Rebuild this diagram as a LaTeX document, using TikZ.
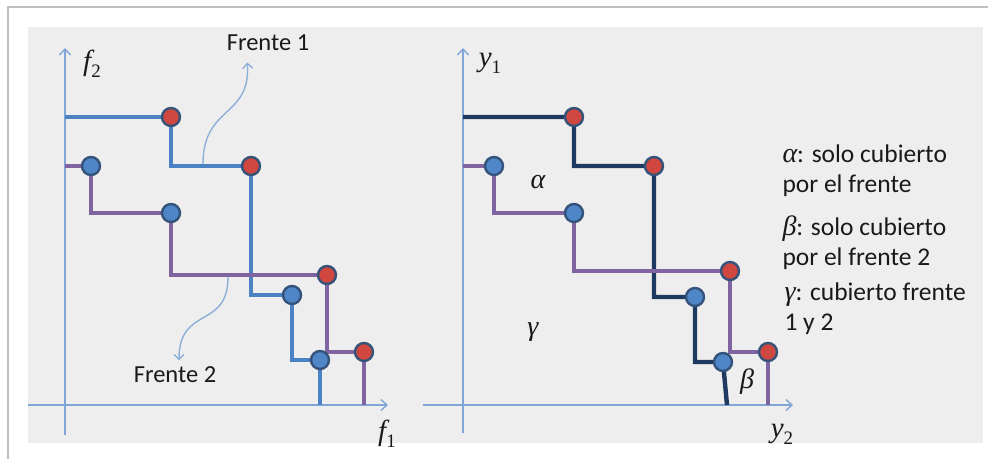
\documentclass[tikz,border=0pt]{standalone}
\usepackage{fontspec}
\setmainfont{Carlito}
\newfontfamily\mfont{Liberation Serif}
\usepackage{tikz}
\usetikzlibrary{arrows.meta, calc}
\definecolor{fxaxis}{HTML}{7FA6D6}
\definecolor{fxblue}{HTML}{4A82C4}
\definecolor{fxpurple}{HTML}{8064A2}
\definecolor{fxnavy}{HTML}{1F3A60}
\definecolor{fxred}{HTML}{D0473F}
\definecolor{fxdot}{HTML}{4F86C8}
\definecolor{fxrim}{HTML}{34527A}
\definecolor{fxcurve}{HTML}{8DB0DA}
\definecolor{fxbg}{HTML}{EEEEEE}
\newcommand\fxvar[2]{{\mfont\itshape #1}\raisebox{-.25em}{\mfont\fontsize{19}{21}\selectfont #2}}
\newcommand\fxgr[1]{{\mfont\itshape\fontsize{28}{30}\selectfont #1}}

\begin{document}
\begin{tikzpicture}[x=1pt, y=-1pt,
          axis/.style={draw=fxaxis, line width=1.4pt, -{Straight Barb[length=6pt, width=11pt]}},
          front/.style={line width=4.4pt, line join=miter},
          pto/.style={circle, draw=fxrim, line width=2.4pt, minimum size=18pt, inner sep=0pt},
          rpt/.style={pto, fill=fxred},
          bpt/.style={pto, fill=fxdot},
          lbl/.style={font=\fontsize{24.5}{28}\selectfont, text=black!90},
          var/.style={font=\fontsize{29}{31}\selectfont, text=black!90},
          note/.style={font=\fontsize{25.5}{30}\selectfont, text=black!90, align=left, anchor=west},
          callout/.style={draw=fxcurve, line width=1.4pt, -{Straight Barb[length=5pt, width=10pt]}}]
          \useasboundingbox (0,0) rectangle (995,459);
          \fill[white] (0,0) rectangle (995,459);
          \fill[fxbg] (28,27) rectangle (983,443);
          \draw[black!25, line width=1.5pt] (8,459) |- (988,7);

          % f1 / f2
          \coordinate (lo) at (65,405);
          \draw[axis] (65,435) -- (65,48);
          \draw[axis] (28,405) -- (388,405);
          \node[var] (lf2) at (92,64) {\fxvar{f}{2}};
          \node[var] (lf1) at (387,434) {\fxvar{f}{1}};

          \coordinate (a0) at (65,117);
          \coordinate (a1) at (171,117);
          \coordinate (a2) at (251,166);
          \coordinate (a3) at (292,295);
          \coordinate (a4) at (320,360);
          \coordinate (b0) at (65,166);
          \coordinate (b1) at (91,166);
          \coordinate (b2) at (171,213);
          \coordinate (b3) at (327,275);
          \coordinate (b4) at (364,352);
          \draw[front, fxblue] (a0) -- (a1) |- (a2) |- (a3) |- (a4) -- (a4 |- lo);
          \draw[front, fxpurple] (b0) -- (b1) |- (b2) |- (b3) |- (b4) -- (b4 |- lo);
          \node[rpt] at (a1) {};
          \node[rpt] at (a2) {};
          \node[bpt] at (a3) {};
          \node[bpt] at (a4) {};
          \node[bpt] at (b1) {};
          \node[bpt] at (b2) {};
          \node[rpt] at (b3) {};
          \node[rpt] at (b4) {};

          \node[lbl] (fr1) at (268,43) {Frente 1};
          \node[lbl] (fr2) at (175,375) {Frente 2};
          \coordinate (k1) at (203,164);
          \coordinate (k2) at (228,277);
          \draw[callout] (k1) .. controls (203,105) and (251,118) .. ($(fr1.south west)+(24,8)$);
          \draw[callout] (k2) .. controls (228,330) and (179,305) .. ($(fr2.north)+(4,-3)$);

          % y1 / y2
          \coordinate (ro) at (463,405);
          \draw[axis] (463,433) -- (463,48);
          \draw[axis] (423,405) -- (793,405);
          \node[var] (ly1) at (490,63) {\fxvar{y}{1}};
          \node[var] (ly2) at (782,434) {\fxvar{y}{2}};

          \coordinate (c0) at (463,117);
          \coordinate (c1) at (574,117);
          \coordinate (c2) at (654,166);
          \coordinate (c3) at (695,297);
          \coordinate (c4) at (723,362);
          \coordinate (d0) at (463,166);
          \coordinate (d1) at (494,166);
          \coordinate (d2) at (574,213);
          \coordinate (d3) at (730,271);
          \coordinate (d4) at (768,352);
          \draw[front, fxnavy] (c0) -- (c1) |- (c2) |- (c3) |- (c4) -- ($(c4 |- ro)+(4,0)$);
          \draw[front, fxpurple] (d0) -- (d1) |- (d2) |- (d3) |- (d4) -- (d4 |- ro);
          \node[rpt] at (c1) {};
          \node[rpt] at (c2) {};
          \node[bpt] at (c3) {};
          \node[bpt] at (c4) {};
          \node[bpt] at (d1) {};
          \node[bpt] at (d2) {};
          \node[rpt] at (d3) {};
          \node[rpt] at (d4) {};

          \node[var] (ra) at (538,182) {\fxgr{α}};
          \node[var] (rg) at (533,332) {\fxgr{γ}};
          \node[var] (rb) at (747,382) {\fxgr{β}};

          \node[note] (na) at (779,171) {\fxgr{α}: solo cubierto\\por el frente};
          \node[note] (nb) at (779,243) {\fxgr{β}: solo cubierto\\por el frente 2};
          \node[note] (ng) at (781,309) {\fxgr{γ}: cubierto frente\\1 y 2};
        \end{tikzpicture}
\end{document}
